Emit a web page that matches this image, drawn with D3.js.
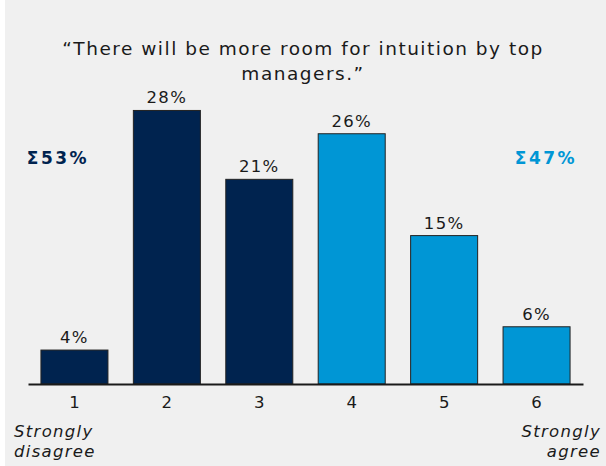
<!DOCTYPE html>
<html>
<head>
<meta charset="utf-8">
<script src="https://cdn.jsdelivr.net/npm/d3@7/dist/d3.min.js"></script>
<style>
  html, body { margin: 0; padding: 0; background: #ffffff; }
  svg { display: block; font-family: Verdana, "DejaVu Sans", sans-serif; }
</style>
</head>
<body>
<svg id="chart" width="606" height="466"></svg>
<script>
// ---- data ----
const categories = ["1", "2", "3", "4", "5", "6"];
const values = [3.5, 28.2, 21.1, 25.8, 15.3, 5.9];
const valueLabels = ["4%", "28%", "21%", "26%", "15%", "6%"];
const groups = ["disagree", "disagree", "disagree", "agree", "agree", "agree"];
const sumLabels = ["Σ53%", "Σ47%"];
const titleLines = ["“There will be more room for intuition by top", "managers.”"];
const endLabelsLeft = ["Strongly", "disagree"];
const endLabelsRight = ["Strongly", "agree"];

const colors = { disagree: "#00234f", agree: "#0096d5" };

const W = 606, H = 466;
const svg = d3.select("#chart");

svg.append("rect").attr("x", 5).attr("y", 0).attr("width", W - 5).attr("height", H).attr("fill", "#f0f0f0");

const x = d3.scaleBand().domain(categories).range([28, 583]).paddingInner(0.275).paddingOuter(0.14);
const y = d3.scaleLinear().domain([0, 30]).range([384, 384 - 30 * 9.7]);

// title
svg.append("g").selectAll("text").data(titleLines).join("text")
  .attr("x", 303).attr("y", (d, i) => 55 + i * 25)
  .attr("text-anchor", "middle").attr("font-size", 18.5).attr("letter-spacing", 1.5).attr("fill", "#1a1a1a")
  .text(d => d);

// bars
svg.append("g").selectAll("rect").data(values).join("rect")
  .attr("x", (d, i) => x(categories[i]))
  .attr("y", d => y(d))
  .attr("width", x.bandwidth())
  .attr("height", d => y(0) - y(d))
  .attr("fill", (d, i) => colors[groups[i]])
  .attr("stroke", "#222")
  .attr("stroke-width", 1);

// value labels
svg.append("g").selectAll("text").data(values).join("text")
  .attr("x", (d, i) => x(categories[i]) + x.bandwidth() / 2)
  .attr("y", d => y(d) - 7)
  .attr("text-anchor", "middle").attr("font-size", 16.5).attr("letter-spacing", 1.3).attr("fill", "#1a1a1a")
  .text((d, i) => valueLabels[i]);

// axis
const axis = d3.axisBottom(x).tickSize(0).tickPadding(12);
const ag = svg.append("g").attr("transform", `translate(0,${y(0)})`).call(axis);
ag.select(".domain").attr("stroke", "#1a1a1a").attr("stroke-width", 2);
ag.selectAll("text").attr("font-size", 16.5).attr("fill", "#1a1a1a")
  .attr("font-family", 'Verdana, "DejaVu Sans", sans-serif');

// end labels
svg.append("g").selectAll("text").data(endLabelsLeft).join("text")
  .attr("x", 14).attr("y", (d, i) => 437 + i * 20)
  .attr("font-size", 16.5).attr("letter-spacing", 1.3).attr("font-style", "italic").attr("fill", "#1a1a1a")
  .text(d => d);
svg.append("g").selectAll("text").data(endLabelsRight).join("text")
  .attr("x", 601).attr("y", (d, i) => 437 + i * 20)
  .attr("text-anchor", "end")
  .attr("font-size", 16.5).attr("letter-spacing", 1.3).attr("font-style", "italic").attr("fill", "#1a1a1a")
  .text(d => d);

// sum labels
svg.append("text").attr("x", 58).attr("y", 164).attr("text-anchor", "middle")
  .attr("font-size", 17).attr("letter-spacing", 2.5).attr("font-weight", "bold").attr("fill", colors.disagree).text(sumLabels[0]);
svg.append("text").attr("x", 546).attr("y", 164).attr("text-anchor", "middle")
  .attr("font-size", 17).attr("letter-spacing", 2.5).attr("font-weight", "bold").attr("fill", colors.agree).text(sumLabels[1]);
</script>
</body>
</html>
